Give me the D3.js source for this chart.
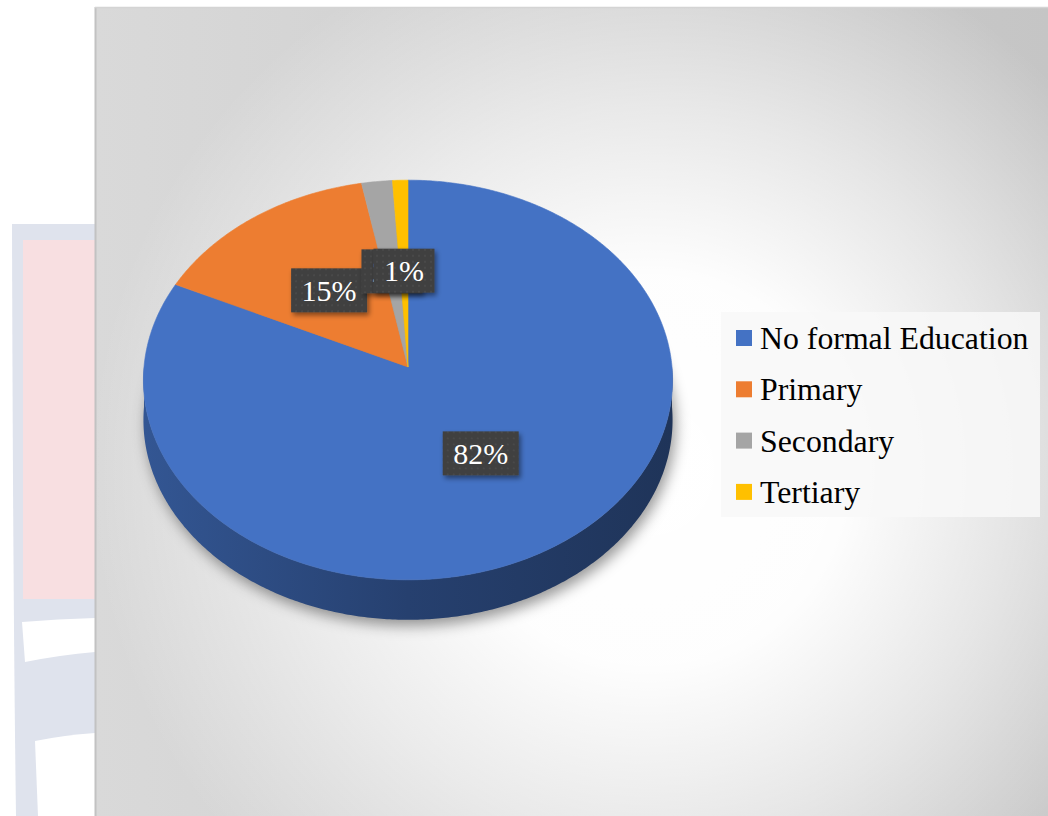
<!DOCTYPE html>
<html>
<head>
<meta charset="utf-8">
<script src="https://cdn.jsdelivr.net/npm/d3@7"></script>
<style>
  html, body { margin: 0; padding: 0; background: #ffffff; }
  svg { display: block; }
</style>
</head>
<body>
<svg id="chart" width="1048" height="816"></svg>
<script>
// ---- data ----
const categories = ["No formal Education", "Primary", "Secondary", "Tertiary"];
const shares = [82, 15, 2, 1];
const shareLabels = ["82%", "15%", "2%", "1%"];
const sliceColors = ["#4472c4", "#ed7d31", "#a5a5a5", "#ffc000"];

// ---- layout ----
const W = 1048, H = 816;
const frame = { x: 95, y: 7 };
const pieC = { x: 408, y: 367 };   // projected pie centre
const RX = 264, RY = 199;          // projected radii
const TILT = 0.065;                // perspective strength
const DEPTH = 40;                  // pie thickness
const LABEL_R = 0.5;
const serif = "'Liberation Serif', 'Times New Roman', Times, serif";

const svg = d3.select("#chart");
const defs = svg.append("defs");

// Perspective projection of a point on the pie disc (angle clockwise from 12 o'clock)
function project(angle, r = 1, dy = 0) {
  const u = r * Math.sin(angle);
  const v = -r * Math.cos(angle);
  const w = 1 - TILT * v;
  return [pieC.x + RX * u / w, pieC.y + RY * v / w + dy];
}
function rim(a0, a1, r = 1, dy = 0) {
  const n = Math.max(2, Math.ceil((a1 - a0) / 0.01));
  return d3.range(n + 1).map(i => project(a0 + (a1 - a0) * i / n, r, dy));
}
const closedLine = d3.line().curve(d3.curveLinearClosed);

// ---- gradients & filters ----
const bgLin = defs.append("linearGradient").attr("id", "bgLin")
  .attr("x1", 0).attr("y1", 0).attr("x2", 1).attr("y2", 0);
bgLin.append("stop").attr("offset", 0).attr("stop-color", "#d9d9d9");
bgLin.append("stop").attr("offset", 1).attr("stop-color", "#c5c5c5");

const glow = defs.append("radialGradient").attr("id", "glow")
  .attr("gradientUnits", "userSpaceOnUse")
  .attr("cx", 650).attr("cy", 470).attr("r", 560);
[[0, 1], [0.35, 0.97], [0.65, 0.55], [1, 0]].forEach(([o, a]) =>
  glow.append("stop").attr("offset", o).attr("stop-color", "#ffffff").attr("stop-opacity", a));

const sideGrad = defs.append("linearGradient").attr("id", "sideGrad")
  .attr("gradientUnits", "userSpaceOnUse")
  .attr("x1", pieC.x - RX).attr("x2", pieC.x + RX).attr("y1", 0).attr("y2", 0);
sideGrad.append("stop").attr("offset", 0).attr("stop-color", d3.color(sliceColors[0]).darker(0.8));
sideGrad.append("stop").attr("offset", 0.5).attr("stop-color", d3.color(sliceColors[0]).darker(1.6));
sideGrad.append("stop").attr("offset", 1).attr("stop-color", d3.color(sliceColors[0]).darker(2.2));

defs.append("filter").attr("id", "pieShadow")
  .attr("x", "-20%").attr("y", "-20%").attr("width", "140%").attr("height", "140%")
  .append("feGaussianBlur").attr("stdDeviation", 7);

const boxShadow = defs.append("filter").attr("id", "boxShadow")
  .attr("x", "-20%").attr("y", "-20%").attr("width", "150%").attr("height", "160%");
boxShadow.append("feDropShadow").attr("dx", 2).attr("dy", 3)
  .attr("stdDeviation", 2.5).attr("flood-color", "#000").attr("flood-opacity", 0.45);

const dots = defs.append("pattern").attr("id", "dots")
  .attr("patternUnits", "userSpaceOnUse").attr("width", 6).attr("height", 6);
dots.append("rect").attr("width", 6).attr("height", 6).attr("fill", "#3f3f3f");
dots.append("circle").attr("cx", 3).attr("cy", 3).attr("r", 0.8).attr("fill", "#565656");

// ---- crest outline at the page margin ----
const crest = svg.append("g");
crest.append("path")
  .attr("d", "M12,224 L95,224 L95,816 L16,816 Q13,600 12,224 Z")
  .attr("fill", "#dfe3ed");
crest.append("rect").attr("x", 23).attr("y", 240).attr("width", 72).attr("height", 359)
  .attr("fill", "#f8dfe1");
crest.append("path")
  .attr("d", "M22,622 Q58,619 95,618 L95,652 Q60,655 25,662 Z")
  .attr("fill", "#ffffff");
crest.append("path")
  .attr("d", "M35,741 Q65,735 95,733 L95,816 L38,816 Z")
  .attr("fill", "#ffffff");

// ---- chart area ----
svg.append("rect").attr("x", frame.x).attr("y", frame.y)
  .attr("width", W - frame.x).attr("height", H - frame.y).attr("fill", "url(#bgLin)");
svg.append("rect").attr("x", frame.x).attr("y", frame.y)
  .attr("width", W - frame.x).attr("height", H - frame.y).attr("fill", "url(#glow)");
svg.append("line").attr("x1", frame.x + 0.5).attr("x2", frame.x + 0.5)
  .attr("y1", frame.y).attr("y2", H).attr("stroke", "#c2c2c2").attr("stroke-width", 2);
svg.append("line").attr("x1", frame.x).attr("x2", W)
  .attr("y1", frame.y + 0.5).attr("y2", frame.y + 0.5).attr("stroke", "#d4d4d4").attr("stroke-width", 1.5);

// ---- pie ----
const arcs = d3.pie().sort(null).value(d => d)(shares);
const pieG = svg.append("g");

// soft shadow under the disc
pieG.append("path")
  .attr("d", closedLine(rim(0, 2 * Math.PI, 1, DEPTH)))
  .attr("transform", "translate(3,6)")
  .attr("fill", "#000").attr("fill-opacity", 0.4)
  .attr("filter", "url(#pieShadow)");

// visible front wall
arcs.forEach((a, i) => {
  const s0 = Math.max(a.startAngle, Math.PI / 2);
  const s1 = Math.min(a.endAngle, 3 * Math.PI / 2);
  if (s1 <= s0) return;
  const pts = rim(s0, s1, 1, 0).concat(rim(s0, s1, 1, DEPTH).reverse());
  pieG.append("path").attr("d", closedLine(pts))
    .attr("fill", i === 0 ? "url(#sideGrad)" : d3.color(sliceColors[i]).darker(1.5));
});

// top faces
pieG.selectAll("path.slice").data(arcs).join("path")
  .attr("class", "slice")
  .attr("d", a => closedLine([[pieC.x, pieC.y]].concat(rim(a.startAngle, a.endAngle))))
  .attr("fill", (a, i) => sliceColors[i])
  .attr("stroke", (a, i) => sliceColors[i]).attr("stroke-width", 0.6);

// ---- data labels ----
const labG = svg.append("g");
arcs.forEach((a, i) => {
  const [lx, ly] = project((a.startAngle + a.endAngle) / 2, LABEL_R);
  const g = labG.append("g").attr("transform", `translate(${lx},${ly})`);
  const rect = g.append("rect").attr("fill", "url(#dots)").attr("filter", "url(#boxShadow)");
  const t = g.append("text").text(shareLabels[i])
    .attr("text-anchor", "middle").attr("y", 10.5)
    .attr("font-family", serif).attr("font-size", 30).attr("fill", "#ffffff");
  const tw = t.node().getComputedTextLength();
  const bw = tw + 21, bh = 44;
  rect.attr("x", -bw / 2).attr("y", -bh / 2).attr("width", bw).attr("height", bh);
});

// ---- legend ----
const legend = svg.append("g");
legend.append("rect").attr("x", 721).attr("y", 312).attr("width", 319).attr("height", 205)
  .attr("fill", "#f8f8f8").attr("fill-opacity", 0.85);
const rows = legend.selectAll("g.item").data(categories).join("g")
  .attr("class", "item")
  .attr("transform", (d, i) => `translate(736,${330 + i * 51.3})`);
rows.append("rect").attr("width", 16).attr("height", 16)
  .attr("fill", (d, i) => sliceColors[i]);
rows.append("text").text(d => d)
  .attr("x", 24).attr("y", 19)
  .attr("font-family", serif).attr("font-size", 31.8).attr("fill", "#000000");
</script>
</body>
</html>
